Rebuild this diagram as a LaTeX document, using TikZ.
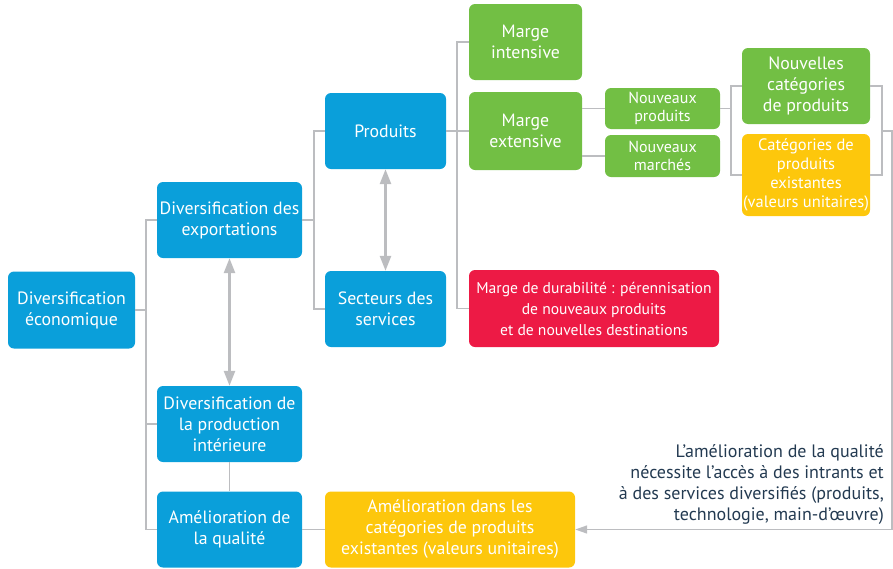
\documentclass[tikz,border=0pt]{standalone}
\usepackage{fontspec}
\setmainfont{PT Sans}
\usetikzlibrary{arrows.meta}
\definecolor{bleu}{HTML}{0A9FDA}
\definecolor{vert}{HTML}{72BF44}
\definecolor{jaune}{HTML}{FDC70C}
\definecolor{rouge}{HTML}{ED1A45}
\definecolor{gris}{HTML}{BCBDC0}
\definecolor{encre}{HTML}{233A51}

\tikzset{
  boite/.style={rounded corners=6pt,text=white,align=center,inner sep=0pt,
    font=\fontsize{17.8}{21}\selectfont},
  petite/.style={boite,font=\fontsize{16}{17.5}\selectfont},
  lien/.style={draw=gris,line width=1.5pt},
  fleche/.style={draw=gris,line width=2.6pt,{Triangle[length=15pt,width=11pt]}-{Triangle[length=15pt,width=11pt]}}
}

\begin{document}
\begin{tikzpicture}[x=1pt,y=-1pt]
\useasboundingbox (0,0) rectangle (893,568);
% boites
\node[boite,fill=bleu,minimum width=127pt,minimum height=77pt] (econ) at (71.5,310) {Diversification\\économique};
\node[boite,fill=bleu,minimum width=145pt,minimum height=76pt] (expo) at (229.5,220) {Diversification des\\exportations};
\node[boite,fill=bleu,minimum width=145pt,minimum height=76pt] (prodint) at (229.5,424) {Diversification de\\la production\\intérieure};
\node[boite,fill=bleu,minimum width=145pt,minimum height=76pt] (qual) at (229.5,529.5) {Amélioration de\\la qualité};
\node[boite,fill=bleu,minimum width=121pt,minimum height=76pt] (produits) at (385.5,131) {Produits};
\node[boite,fill=bleu,minimum width=121pt,minimum height=76pt] (services) at (385.5,309) {Secteurs des\\services};
\node[boite,fill=vert,minimum width=113pt,minimum height=76pt] (intensive) at (525.5,42) {Marge\\intensive};
\node[boite,fill=vert,minimum width=113pt,minimum height=78pt] (extensive) at (525.5,131) {Marge\\extensive};
\node[boite,fill=rouge,minimum width=250pt,minimum height=77pt,font=\fontsize{15.6}{21}\selectfont] (durab) at (594,308.5) {Marge de durabilité : pérennisation\\de nouveaux produits\\ et de nouvelles destinations};
\node[petite,fill=vert,minimum width=115pt,minimum height=41pt] (nvprod) at (662.5,108.5) {Nouveaux\\produits};
\node[petite,fill=vert,minimum width=115pt,minimum height=42pt] (nvmarch) at (662.5,156) {Nouveaux\\marchés};
\node[boite,fill=vert,minimum width=128pt,minimum height=76pt] (nvcat) at (806,86) {Nouvelles\\catégories\\de produits};
\node[boite,fill=jaune,minimum width=128pt,minimum height=82pt,font=\fontsize{16.5}{19}\selectfont] (catex) at (806,175) {Catégories de\\produits\\existantes\\(valeurs unitaires)};
\node[boite,fill=jaune,minimum width=250pt,minimum height=76pt] (amelcat) at (450,529.5) {Amélioration dans les\\catégories de produits\\existantes (valeurs unitaires)};
\node[anchor=north east,align=right,inner sep=0pt,text=encre,font=\fontsize{18}{21}\selectfont] (note) at (884,444) {L’amélioration de la qualité\\nécessite l’accès à des intrants et\\à des services diversifiés (produits,\\technologie, main-d’œuvre)};

% liens
\coordinate (b1) at (146,310);
\coordinate (b2) at (314,220);
\coordinate (b3) at (457,131);
\coordinate (b4) at (731,108.5);
\coordinate (b5) at (882,131);
\coordinate (b6) at (892,529.5);
\draw[lien] (expo.west) -| (b1) |- (qual.west);
\draw[lien] (econ.east) -- (b1);
\draw[lien] (prodint.west) -- (prodint.west -| b1);
\draw[lien] (produits.west) -| (b2) |- (services.west);
\draw[lien] (expo.east) -- (b2);
\draw[lien] (intensive.west) -| (b3) |- (durab.west);
\draw[lien] (produits.east) -- (extensive.west);
\draw[lien] (nvprod.west -| extensive.east) -- (nvprod.west);
\draw[lien] (nvmarch.west -| extensive.east) -- (nvmarch.west);
\draw[lien] (nvcat.west) -| (b4) |- (catex.west);
\draw[lien] (nvprod.east) -- (b4);
\draw[lien] (nvcat.east) -| (b5) |- (catex.east);
\draw[lien,-{Triangle[length=12pt,width=8pt]}] (b5) -| (b6) |- (amelcat.east);
\draw[lien] (qual.east) -- (amelcat.west);
\draw[lien] (prodint.south) -- (qual.north);
\draw[fleche] (expo.south) -- (prodint.north);
\draw[fleche] (produits.south) -- (services.north);
\end{tikzpicture}
\end{document}
